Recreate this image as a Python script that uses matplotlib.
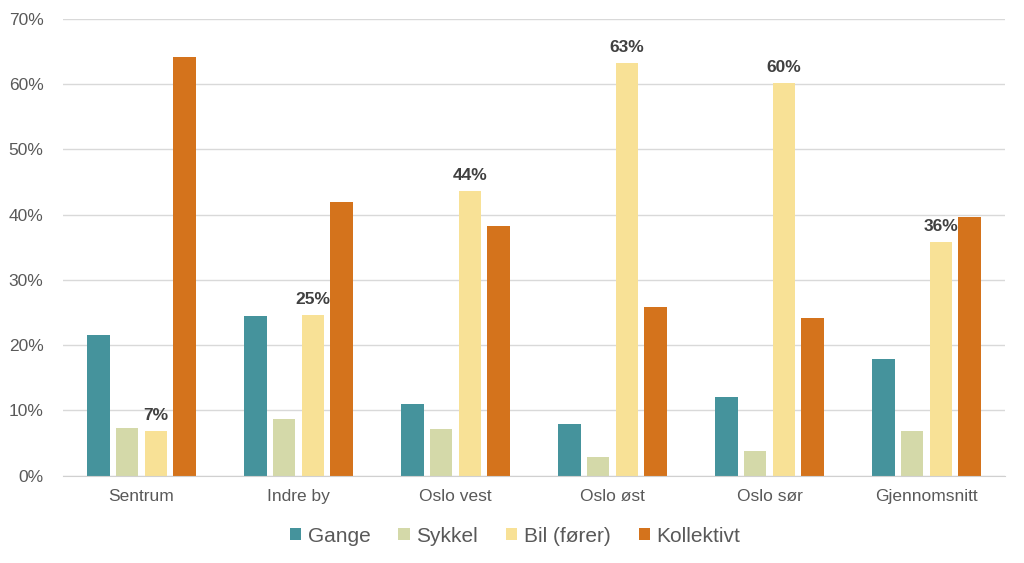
import matplotlib
matplotlib.use("Agg")
import matplotlib.pyplot as plt
import numpy as np

categories = ["Sentrum", "Indre by", "Oslo vest", "Oslo øst", "Oslo sør", "Gjennomsnitt"]
gange = [21.5, 24.4, 11.0, 7.9, 12.0, 17.8]
sykkel = [7.3, 8.7, 7.1, 2.8, 3.8, 6.9]
bil = [6.8, 24.6, 43.6, 63.3, 60.2, 35.8]
kollektivt = [64.2, 41.9, 38.2, 25.8, 24.2, 39.7]
series_names = ["Gange", "Sykkel", "Bil (fører)", "Kollektivt"]
colors = ["#45939c", "#d4d9a9", "#f8e196", "#d4731c"]
yticks = [0, 10, 20, 30, 40, 50, 60, 70]

plt.rcParams['font.family'] = ['Liberation Sans', 'DejaVu Sans']

fig = plt.figure(figsize=(10.24, 5.63), dpi=100)
ax = fig.add_axes([63/1024, 1 - 475.5/563, (1005-63)/1024, (475.5-19)/563])

x = np.arange(len(categories))
width = 0.143
pitch = 0.182
series = [gange, sykkel, bil, kollektivt]
for i, (vals, name, c) in enumerate(zip(series, series_names, colors)):
    off = (i - 1.5) * pitch
    bars = ax.bar(x + off, vals, width, color=c, label=name, zorder=3)
    if name == "Bil (fører)":
        for xi, v in zip(x + off, vals):
            ax.text(xi, v + 1.25, f"{round(v)}%", ha="center", va="bottom",
                    fontsize=12.5, fontweight="bold", color="#404040", zorder=4)

ax.set_xlim(-0.5, len(categories) - 0.5)
ax.set_ylim(0, 70)
ax.set_yticks(yticks)
ax.set_yticklabels([f"{t}%" for t in yticks])
ax.set_xticks(x)
ax.set_xticklabels(categories)
ax.tick_params(axis="both", length=0, labelsize=12.5, colors="#595959")
ax.tick_params(axis="y", pad=14)
ax.tick_params(axis="x", pad=10)
ax.grid(axis="y", color="#d9d9d9", linewidth=1, zorder=0)
for s in ["top", "right", "left"]:
    ax.spines[s].set_visible(False)
ax.spines["bottom"].set_color("#d0d0d0")
ax.spines["bottom"].set_zorder(5)

leg = fig.legend(loc="center", bbox_to_anchor=(515/1024, 1 - 536/563), ncol=4,
                 frameon=False, fontsize=15, handlelength=0.55, handleheight=0.55,
                 handletextpad=0.3, columnspacing=1.35, labelcolor="#595959")

fig.savefig("out.png", dpi=100, facecolor="white")
